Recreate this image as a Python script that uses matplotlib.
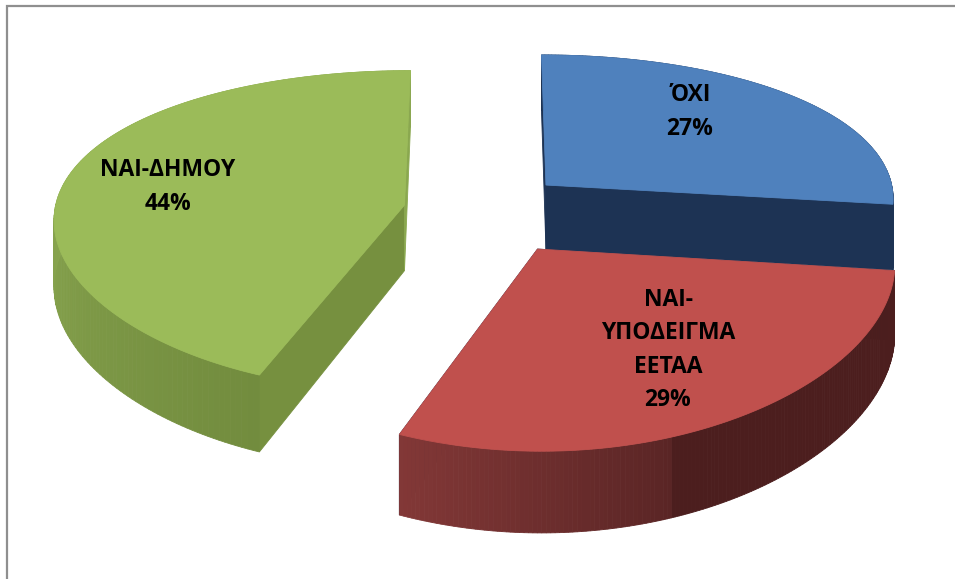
import numpy as np
import matplotlib
matplotlib.use('Agg')
import matplotlib.pyplot as plt
from matplotlib.patches import Polygon
from matplotlib.colors import to_rgb

labels = ['ΌΧΙ', 'ΝΑΙ-\nΥΠΟΔΕΙΓΜΑ\nΕΕΤΑΑ', 'ΝΑΙ-ΔΗΜΟΥ']
values = [27, 29, 44]
top_colors = ['#4F81BD', '#C0504D', '#9BBB59']
label_pos = [(690, 112), (668, 350), (168, 187)]

# projection of the tilted pie, in pixels
cx, cy = 487, 209
sx, sy = 350, 158
persp_x, persp_y = 0.08, 0.16
explode = 0.235
height = 66
nudge = [(-2, 0), (8, 7), (-2, 3)]


def project(X, Y, drop=0.0):
    wx = 1 - persp_x * Y
    wy = 1 - persp_y * Y
    return cx + sx * X / wx, cy + (sy * Y + height * drop) / wy


def mix(c1, c2, t):
    c1, c2 = np.array(to_rgb(c1)), np.array(to_rgb(c2))
    return tuple(c1 + (c2 - c1) * t)


def wall_color(i, t):
    # t runs along the rim of the slice, 0 to 1
    if i == 0:
        return '#1D3354'
    if i == 1:
        if t < 0.6:
            return '#4C1E1E'
        return mix('#5A2525', '#833837', (t - 0.6) / 0.4)
    return mix('#728C3E', '#8AA750', min(t * 2, 1))


def face(ax, pts, color, z):
    ax.add_patch(Polygon(pts, closed=True, fc=color, ec=color, lw=0.6, zorder=z))


fig = plt.figure(figsize=(9.55, 5.79), dpi=100)
ax = fig.add_axes([0, 0, 1, 1])
ax.set_xlim(0, 955)
ax.set_ylim(579, 0)
ax.axis('off')

# chart frame
ax.plot([6.5, 6.5, 955], [579, 6, 6], color='#8f8f8f', lw=1.6, solid_joinstyle='miter')

fracs = np.array(values) / sum(values)
ends = np.cumsum(fracs) * 2 * np.pi
starts = ends - fracs * 2 * np.pi
cut_colors = [('#1D3354', '#1D3354'), ('#1D3354', '#1D3354'), ('#76903F', '#8AA84F')]
draw_order = [1, 3, 2]

for i in range(3):
    a0, a1 = starts[i], ends[i]
    mid = (a0 + a1) / 2
    ox, oy = explode * np.sin(mid), -explode * np.cos(mid)
    z = draw_order[i] * 10
    angs = np.linspace(a0, a1, 160)
    # a is clockwise from the back of the pie
    rx, ry = np.sin(angs) + ox, -np.cos(angs) + oy
    tx, ty = project(rx, ry)
    bx, by = project(rx, ry, 1)
    nx, ny = nudge[i]
    tx, ty, bx, by = tx + nx, ty + ny, bx + nx, by + ny
    apex_t = np.array(project(ox, oy)) + nudge[i]
    apex_b = np.array(project(ox, oy, 1)) + nudge[i]
    # cut faces
    face(ax, [apex_t, (tx[0], ty[0]), (bx[0], by[0]), apex_b], cut_colors[i][0], z)
    face(ax, [apex_t, (tx[-1], ty[-1]), (bx[-1], by[-1]), apex_b], cut_colors[i][1], z + 1)
    # outer wall, shaded strip by strip
    for j in range(len(angs) - 1):
        t = (angs[j] - a0) / (a1 - a0)
        face(ax, [(tx[j], ty[j]), (tx[j + 1], ty[j + 1]), (bx[j + 1], by[j + 1]), (bx[j], by[j])],
             wall_color(i, t), z + 2)
    # top
    pts = [apex_t] + list(zip(tx, ty))
    face(ax, pts, top_colors[i], z + 5)

for i in range(3):
    txt = f'{labels[i]}\n{values[i]}%'
    ax.text(label_pos[i][0], label_pos[i][1], txt, ha='center', va='center', color='black',
            fontsize=16.5, fontweight='bold', family='Open Sans', linespacing=1.52, zorder=50)

fig.savefig('out.png', dpi=100)
